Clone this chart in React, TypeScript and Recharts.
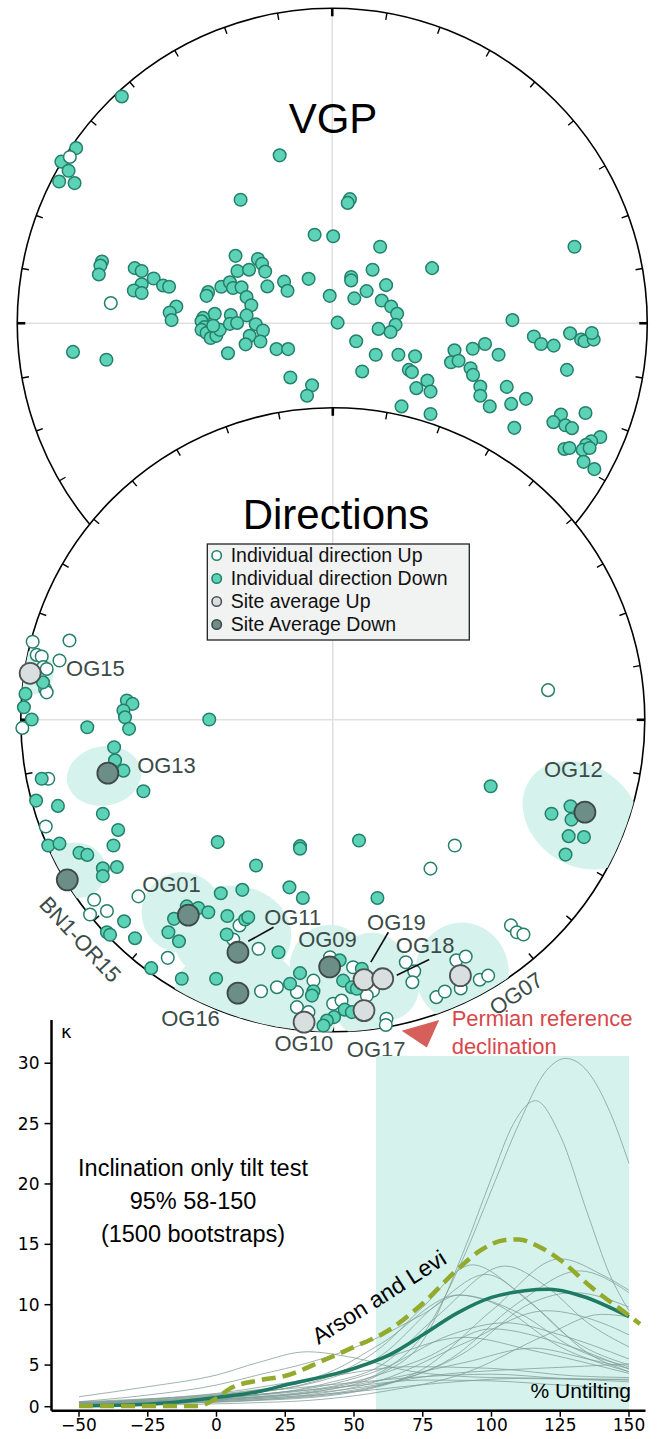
import React from 'react';
import { ScatterChart, Scatter, XAxis, YAxis, LineChart, Line, ReferenceArea } from 'recharts';

type Pt = [number, number];

// Equal-area projected coordinates (unit circle, x = east, y = north)
const vgpDown: Pt[] = [
  [-0.668, 0.72], [-0.813, 0.556], [-0.86, 0.513], [-0.837, 0.484], [-0.867, 0.45], [-0.818, 0.445],
  [-0.167, 0.533], [-0.291, 0.392], [-0.056, 0.281], [0.003, 0.276], [-0.731, 0.196], [-0.736, 0.183],
  [-0.741, 0.155], [-0.627, 0.175], [-0.605, 0.166], [-0.567, 0.142], [-0.605, 0.124], [-0.63, 0.104],
  [-0.605, 0.096], [-0.537, 0.12], [-0.518, 0.116], [-0.495, 0.053], [-0.516, 0.034], [-0.51, 0.01],
  [-0.823, -0.091], [-0.717, -0.116], [-0.394, 0.099], [-0.399, 0.087], [-0.352, 0.116], [-0.325, 0.13],
  [-0.315, 0.112], [-0.307, 0.214], [-0.301, 0.166], [-0.264, 0.17], [-0.236, 0.204], [-0.223, 0.189],
  [-0.213, 0.164], [-0.288, 0.114], [-0.272, 0.083], [-0.257, 0.057], [-0.272, 0.025], [-0.206, 0.117],
  [-0.153, 0.132], [-0.142, 0.103], [-0.075, 0.141], [-0.008, 0.087], [-0.373, 0.03], [-0.41, 0.017],
  [-0.415, 0.006], [-0.405, -0.012], [-0.415, -0.021], [-0.399, -0.031], [-0.386, -0.047], [-0.368, -0.04],
  [-0.357, -0.021], [-0.378, -0.008], [-0.322, 0.026], [-0.325, -0.002], [-0.302, 0.001], [-0.243, -0.003],
  [-0.22, -0.023], [-0.262, -0.04], [-0.275, -0.067], [-0.228, -0.058], [-0.331, -0.095], [-0.177, -0.082],
  [-0.14, -0.082], [-0.133, -0.172], [-0.064, -0.197], [-0.08, -0.23],
  [0.056, 0.394], [0.049, 0.382], [0.152, 0.243], [0.769, 0.243], [0.317, 0.175], [0.128, 0.17],
  [0.06, 0.147], [0.06, 0.136], [0.171, 0.121], [0.109, 0.102], [0.07, 0.079], [0.157, 0.072],
  [0.187, 0.053], [0.206, 0.03], [0.201, -0.005], [0.185, -0.028], [0.147, -0.018], [0.017, 0.002],
  [0.572, 0.01], [0.076, -0.057], [0.138, -0.1], [0.21, -0.1], [0.263, -0.105], [0.095, -0.153],
  [0.243, -0.148], [0.253, -0.155], [0.302, -0.182], [0.267, -0.206], [0.312, -0.217], [0.22, -0.264],
  [0.312, -0.288], [0.388, -0.086], [0.377, -0.124], [0.401, -0.119], [0.446, -0.081], [0.485, -0.066],
  [0.528, -0.1], [0.439, -0.143], [0.447, -0.164], [0.47, -0.201], [0.47, -0.23], [0.5, -0.264],
  [0.554, -0.202], [0.568, -0.256], [0.615, -0.24], [0.578, -0.332], [0.64, -0.042], [0.663, -0.066],
  [0.703, -0.071], [0.755, -0.032], [0.79, -0.052], [0.801, -0.057], [0.83, -0.052], [0.824, -0.031],
  [0.745, -0.148], [0.726, -0.29], [0.702, -0.314], [0.74, -0.324], [0.761, -0.333], [0.804, -0.285],
  [0.851, -0.361], [0.822, -0.375], [0.806, -0.386], [0.795, -0.402], [0.817, -0.396], [0.737, -0.399],
  [0.753, -0.396], [0.798, -0.44], [0.832, -0.463],
];
const vgpUp: Pt[] = [[-0.833, 0.528], [-0.703, 0.064]];

const dirUp: Pt[] = [
  [-0.962, 0.25], [-0.844, 0.254], [-0.949, 0.208], [-0.933, 0.203], [-0.876, 0.19], [-0.928, 0.169],
  [-0.917, 0.163], [-0.922, 0.099], [-0.917, 0.088], [-0.995, -0.026], [-0.912, -0.189], [-0.92, -0.342],
  [-0.765, -0.577], [-0.778, -0.624], [-0.724, -0.613], [-0.623, -0.566], [-0.529, -0.763], [-0.299, -0.659],
  [-0.319, -0.704], [-0.238, -0.734], [-0.23, -0.87], [-0.179, -0.857], [-0.115, -0.873], [-0.062, -0.836],
  [-0.115, -0.921], [-0.078, -0.937], [0.69, 0.095], [0.391, -0.403], [0.313, -0.477], [0.571, -0.659],
  [0.59, -0.681], [0.611, -0.688], [0.234, -0.777], [0.261, -0.806], [0.255, -0.841], [0.396, -0.771],
  [0.426, -0.759], [0.41, -0.861], [0.471, -0.833], [0.498, -0.82], [0.332, -0.889], [0.359, -0.871],
  [0.172, -0.958], [0.17, -0.978], [0.065, -0.793], [0.129, -0.868], [0.001, -0.91], [0.028, -0.9],
  [0.109, -0.884], [-0.009, -0.761],
];
const dirDown: Pt[] = [
  [-0.929, 0.12], [-0.985, 0.083], [-0.99, 0.04], [-0.965, 0.001], [-0.787, -0.024], [-0.66, 0.062],
  [-0.642, 0.051], [-0.671, 0.03], [-0.666, 0.008], [-0.653, -0.029], [-0.396, 0.001], [-0.701, -0.088],
  [-0.698, -0.13], [-0.671, -0.163], [-0.607, -0.229], [-0.933, -0.189], [-0.951, -0.259], [-0.881, -0.276],
  [-0.737, -0.301], [-0.688, -0.353], [-0.703, -0.403], [-0.912, -0.403], [-0.876, -0.397], [-0.812, -0.426],
  [-0.787, -0.433], [-0.737, -0.476], [-0.737, -0.501], [-0.692, -0.472], [-0.369, -0.392], [-0.105, -0.405],
  [-0.105, -0.413], [-0.246, -0.467], [-0.359, -0.556], [-0.29, -0.545], [-0.139, -0.537], [-0.096, -0.571],
  [-0.669, -0.646], [-0.724, -0.681], [-0.714, -0.689], [-0.634, -0.7], [-0.582, -0.796], [-0.484, -0.83],
  [-0.374, -0.83], [-0.509, -0.638], [-0.527, -0.681], [-0.493, -0.71], [-0.468, -0.598], [-0.431, -0.603],
  [-0.399, -0.617], [-0.338, -0.629], [-0.34, -0.688], [-0.281, -0.64], [-0.271, -0.633], [-0.174, -0.745],
  [-0.105, -0.812], [-0.137, -0.846], [-0.062, -0.87], [0.506, -0.213], [0.084, -0.387], [0.143, -0.571],
  [0.701, -0.301], [0.762, -0.277], [0.765, -0.32], [0.756, -0.373], [0.805, -0.376], [0.746, -0.432],
  [0.022, -0.771], [0.033, -0.836], [0.004, -0.953], [0.038, -0.929], [0.093, -0.798], [0.061, -0.857],
  [0.077, -0.862], [-0.067, -0.884], [-0.019, -0.964], [-0.03, -0.98], [0.061, -0.937],
];

// site means: [name, x, y]
const siteMeansUp: [string, number, number][] = [
  ['OG15', -0.97, 0.149], ['OG10', -0.092, -0.969], ['OG19', 0.1, -0.833],
  ['OG18', 0.16, -0.83], ['OG07', 0.409, -0.82], ['OG17', 0.1, -0.932],
];
const siteMeansDown: [string, number, number][] = [
  ['OG13', -0.721, -0.171], ['BN1-OR15', -0.851, -0.513], ['OG01', -0.463, -0.626],
  ['OG11', -0.304, -0.745], ['OG16', -0.304, -0.876], ['OG09', -0.01, -0.792], ['OG12', 0.808, -0.296],
];
// confidence regions: [x, y, semi-axis x, semi-axis y, rotation deg]
const confRegions: [number, number, number, number, number][] = [
  [-0.96, 0.152, 0.065, 0.07, 0], [-0.733, -0.18, 0.12, 0.095, -10], [-0.826, -0.483, 0.1, 0.09, 0],
  [-0.483, -0.618, 0.13, 0.13, 0], [-0.323, -0.691, 0.19, 0.16, 0], [-0.307, -0.873, 0.2, 0.15, 0],
  [-0.009, -0.797, 0.13, 0.14, 0], [-0.092, -0.964, 0.1, 0.08, 0], [0.126, -0.822, 0.12, 0.14, 0],
  [0.177, -0.853, 0.1, 0.11, 0], [0.1, -0.933, 0.09, 0.08, 0], [0.414, -0.81, 0.15, 0.16, 0],
  [0.796, -0.306, 0.2, 0.16, 35],
];
const PERMIAN_DEC = 164;

// k vs % untilting
const meanKappa: Pt[] = [
  [-50, 0.1], [-25, 0.3], [0, 1.1], [15, 1.8], [25, 2.6], [50, 4.6], [62.5, 5.8], [75, 7.5],
  [87.5, 9.3], [100, 10.6], [112, 11.15], [121, 11.27], [133, 10.7], [150, 9.0],
];
const arsonLevi: Pt[] = [
  [-50, 0.1], [-25, 0.1], [-7, 0.1], [0, 1.0], [5, 2.2], [16, 3.2], [25, 3.7], [39, 5.4], [50, 6.5],
  [62, 7.8], [75, 10.1], [88, 13.0], [96, 14.5], [105, 15.35], [110, 15.4], [116, 14.95], [125, 13.7],
  [136, 11.5], [150, 9.1], [154, 8.4],
];
const bootstraps: Pt[][] = [
  [[-50, 1.2], [-25, 2.4], [0, 3.8], [15, 5.2], [33, 6.1], [50, 5.6], [70, 4.3], [100, 3.5], [125, 3.4], [150, 3.2]],
  [[-50, 0.6], [-25, 1.4], [0, 2.6], [15, 3.8], [35, 5.3], [55, 6.9], [75, 9.2], [88, 10.8], [100, 10.2], [125, 6.5], [150, 4.2]],
  [[-50, 0.3], [0, 0.9], [40, 2.2], [60, 4.2], [75, 7.5], [90, 14], [100, 19.5], [110, 25], [120, 29.4], [127, 30.4], [135, 29.3], [143, 26], [150, 21.7]],
  [[-50, 0.3], [0, 0.8], [40, 2.0], [60, 4.0], [75, 7], [90, 14.5], [100, 20.5], [108, 25], [116, 26.9], [125, 24], [135, 17.5], [143, 12.5], [150, 9.5]],
  [[-50, 0.4], [0, 1.2], [40, 3.5], [60, 6.5], [75, 9.8], [93, 13.3], [110, 11], [130, 7], [150, 5]],
  [[-50, 0.3], [0, 1], [40, 2.8], [60, 5], [80, 9], [105, 13.2], [120, 11.5], [135, 8.5], [150, 6.5]],
  [[-50, 0.2], [0, 0.6], [50, 2], [75, 4.5], [100, 9.5], [125, 13.8], [140, 12.5], [150, 11.2]],
  [[-50, 0.5], [0, 1.3], [40, 3.3], [60, 5.8], [80, 10], [98, 12.5], [115, 10], [135, 6], [150, 4.2]],
  [[-50, 0.5], [0, 1.4], [40, 4], [60, 6.8], [88, 10.8], [110, 9.3], [130, 6.4], [150, 4.8]],
  [[-50, 0.2], [25, 1], [60, 2.6], [85, 5.5], [110, 10.2], [132, 12.8], [150, 11]],
  [[-50, 0.3], [25, 1.2], [60, 3.2], [90, 6.8], [120, 9.5], [140, 8.5], [150, 7.5]],
  [[-50, 0.4], [25, 1.8], [60, 4.5], [85, 7.5], [105, 8.5], [125, 7.5], [150, 5.5]],
  [[-50, 0.1], [25, 0.6], [60, 1.8], [90, 4], [120, 7.5], [140, 9.2], [150, 9]],
  [[-50, 0.6], [25, 2.5], [60, 5.5], [90, 7.3], [115, 6.2], [150, 4]],
  [[-50, 0.3], [25, 1.4], [60, 3.2], [90, 5.2], [115, 6.4], [135, 5.5], [150, 4.6]],
  [[-50, 0.4], [0, 1.4], [50, 2.9], [75, 3.6], [100, 3.9], [125, 3.4], [150, 3]],
  [[-50, 0.3], [0, 1.1], [50, 2.5], [75, 3.2], [100, 3.1], [125, 2.6], [150, 2.2]],
  [[-50, 0.2], [0, 0.9], [50, 2.2], [80, 3.8], [110, 4.5], [130, 4.8], [150, 5.1]],
  [[-50, 0.2], [0, 0.7], [50, 1.8], [80, 2.8], [110, 3.4], [130, 3.3], [150, 3.3]],
  [[-50, 0.3], [0, 1], [50, 3], [75, 5.5], [100, 8], [125, 6.8], [150, 4.5]],
  [[-50, 0.5], [0, 1.6], [40, 3.6], [70, 4.8], [100, 4.6], [130, 3.7], [150, 3.5]],
  [[-50, 0.2], [25, 0.9], [60, 2.5], [90, 6], [115, 10.2], [130, 11], [150, 9.8]],
];
const BAND: Pt = [58, 150];
const BAND_TOP = 30.6;
const X_TICKS = [-50, -25, 0, 25, 50, 75, 100, 125, 150];
const KAPPA_TICKS = [0, 5, 10, 15, 20, 25, 30];

// ---- layout / style ----
const SANS = '"Liberation Sans", Arial, Helvetica, sans-serif';
const DEJAVU = '"DejaVu Sans", sans-serif';
const TEAL = '#5cd3b6';
const TEAL_EDGE = '#24806b';
const REGION = '#d6f2ec';
const LABEL = '#3b4b48';
const RED = '#d9474a';

const SPAN = 1.15;
const VGP = { cx: 332.5, cy: 323.5, r: 315 };
const DIR = { cx: 332.7, cy: 719.3, r: 312 };

// axis below 5 is compressed in the original figure
const squash = (k: number) => (k >= 5 ? k : 5 - (5 - k) * 0.69);
const unsquash = (v: number) => (v >= 5 ? v : 5 - (5 - v) / 0.69);
const Y_MIN = 1.22;
const Y_MAX = 33.58;

const xy = (pts: Pt[]) => pts.map(([x, y]) => ({ x, y }));
const kx = (pts: Pt[]) => pts.map(([x, k]) => ({ x, k }));
const minus = (v: number) => (v < 0 ? `\u2212${Math.abs(v)}` : `${v}`);

const dot = (r: number, fill: string, stroke: string, sw: number) => (p: any) => (
  <circle cx={p.cx} cy={p.cy} r={r} fill={fill} stroke={stroke} strokeWidth={sw} />
);

const frame = (r: number, clipId?: string) => (p: any) => {
  const { cx, cy } = p;
  const ticks = [];
  for (let a = 0; a < 360; a += 10) {
    const t = (a * Math.PI) / 180;
    const s = Math.sin(t);
    const c = Math.cos(t);
    const major = a % 90 === 0;
    const len = major ? 8 : 7;
    ticks.push(
      <line key={a} x1={cx + s * r} y1={cy - c * r} x2={cx + s * (r - len)} y2={cy - c * (r - len)}
        stroke="#000" strokeWidth={major ? 2.6 : 1.4} />
    );
  }
  return (
    <g>
      {clipId && (
        <defs>
          <clipPath id={clipId}>
            <circle cx={cx} cy={cy} r={r} />
          </clipPath>
        </defs>
      )}
      <circle cx={cx} cy={cy} r={r} fill="#fff" />
      <line x1={cx - r} y1={cy} x2={cx + r} y2={cy} stroke="#e0e0e0" strokeWidth={1.6} />
      <line x1={cx} y1={cy - r} x2={cx} y2={cy + r} stroke="#e0e0e0" strokeWidth={1.6} />
      <circle cx={cx} cy={cy} r={r} fill="none" stroke="#000" strokeWidth={1.6} />
      {ticks}
    </g>
  );
};

const regionShape = (p: any) => {
  const d = p.payload;
  return (
    <g clipPath="url(#dirClip)">
      <ellipse cx={p.cx} cy={p.cy} rx={d.a * DIR.r} ry={d.b * DIR.r} fill={REGION}
        transform={`rotate(${d.rot} ${p.cx} ${p.cy})`} />
    </g>
  );
};

// label anchors (text start, baseline) and leader lines in projected units
const siteLabels = [
  { x: -0.855, y: 0.139, text: 'OG15' },
  { x: -0.627, y: -0.171, text: 'OG13' },
  { x: -0.611, y: -0.553, text: 'OG01' },
  { x: -0.22, y: -0.659, text: 'OG11', leader: [-0.271, -0.71, -0.19, -0.665] },
  { x: -0.55, y: -0.98, text: 'OG16' },
  { x: -0.187, y: -1.06, text: 'OG10' },
  { x: 0.045, y: -1.081, text: 'OG17' },
  { x: -0.111, y: -0.729, text: 'OG09' },
  { x: 0.11, y: -0.675, text: 'OG19', leader: [0.178, -0.681, 0.122, -0.777] },
  { x: 0.202, y: -0.749, text: 'OG18', leader: [0.309, -0.768, 0.205, -0.819] },
  { x: 0.677, y: -0.184, text: 'OG12' },
  { x: 0.588, y: -0.878, text: 'OG07', angle: -34 },
  { x: -0.81, y: -0.704, text: 'BN1-OR15', angle: 47 },
  { x: 0.381, y: -0.98, text: 'Permian reference', color: RED },
  { x: 0.381, y: -1.07, text: 'declination', color: RED },
];

const labelShape = (p: any) => {
  const d = p.payload;
  const { cx, cy } = p;
  const R = DIR.r;
  const leader = d.leader ? (
    <line x1={cx + (d.leader[0] - d.x) * R} y1={cy - (d.leader[1] - d.y) * R}
      x2={cx + (d.leader[2] - d.x) * R} y2={cy - (d.leader[3] - d.y) * R}
      stroke="#111" strokeWidth={1.6} />
  ) : null;
  const rotated = d.angle !== undefined;
  return (
    <g>
      {leader}
      <text x={cx} y={cy} fill={d.color || LABEL} fontSize={22} fontFamily={SANS}
        textAnchor={rotated ? 'middle' : 'start'} dominantBaseline={rotated ? 'central' : 'alphabetic'}
        transform={rotated ? `rotate(${d.angle} ${cx} ${cy})` : undefined}>
        {d.text}
      </text>
    </g>
  );
};

const permianShape = (p: any) => {
  const t = (PERMIAN_DEC * Math.PI) / 180;
  const u = [Math.sin(t), -Math.cos(t)];
  const q = [Math.cos(t), Math.sin(t)];
  const bx = p.cx + u[0] * 6;
  const by = p.cy + u[1] * 6;
  const pts = [
    [bx + q[0] * 19.5, by + q[1] * 19.5],
    [bx - q[0] * 19.5, by - q[1] * 19.5],
    [p.cx + u[0] * 29, p.cy + u[1] * 29],
  ];
  return <polygon points={pts.map((v) => v.join(',')).join(' ')} fill="#d65f5b" />;
};

const Stereonet: React.FC<{ geo: typeof VGP; children: React.ReactNode }> = ({ geo, children }) => {
  const size = 2 * SPAN * geo.r;
  return (
    <div style={{ position: 'absolute', left: geo.cx - size / 2, top: geo.cy - size / 2 }}>
      <ScatterChart width={size} height={size} margin={{ top: 0, right: 0, bottom: 0, left: 0 }}>
        <XAxis type="number" dataKey="x" domain={[-SPAN, SPAN]} hide />
        <YAxis type="number" dataKey="y" domain={[-SPAN, SPAN]} hide />
        {children}
      </ScatterChart>
    </div>
  );
};

const origin = [{ x: 0, y: 0 }];

const VgpPlot = () => (
  <Stereonet geo={VGP}>
    <Scatter data={origin} shape={frame(VGP.r)} isAnimationActive={false} />
    <Scatter data={xy(vgpDown)} shape={dot(6.3, TEAL, TEAL_EDGE, 1.5)} isAnimationActive={false} />
    <Scatter data={xy(vgpUp)} shape={dot(6.3, '#fff', TEAL_EDGE, 1.5)} isAnimationActive={false} />
  </Stereonet>
);

const DirectionsPlot = () => {
  const rim = Math.PI * PERMIAN_DEC / 180;
  return (
    <Stereonet geo={DIR}>
      <Scatter data={origin} shape={frame(DIR.r, 'dirClip')} isAnimationActive={false} />
      <Scatter data={confRegions.map(([x, y, a, b, rot]) => ({ x, y, a, b, rot }))} shape={regionShape} isAnimationActive={false} />
      <Scatter data={xy(dirUp)} shape={dot(6.3, '#fff', TEAL_EDGE, 1.5)} isAnimationActive={false} />
      <Scatter data={xy(dirDown)} shape={dot(6.3, TEAL, TEAL_EDGE, 1.5)} isAnimationActive={false} />
      <Scatter data={siteMeansUp.map(([s, x, y]) => ({ s, x, y }))} shape={dot(10.5, '#d9dede', '#4d5453', 1.8)} isAnimationActive={false} />
      <Scatter data={siteMeansDown.map(([s, x, y]) => ({ s, x, y }))} shape={dot(10.5, '#6d8e87', '#3d4a47', 1.8)} isAnimationActive={false} />
      <Scatter data={[{ x: Math.sin(rim), y: Math.cos(rim) }]} shape={permianShape} isAnimationActive={false} />
      <Scatter data={siteLabels} shape={labelShape} isAnimationActive={false} />
    </Stereonet>
  );
};

const KappaPlot = () => (
  <div style={{ position: 'absolute', left: 0, top: 980 }}>
    <LineChart width={658} height={459} margin={{ top: 40, right: 12.5, bottom: 0.3, left: 5.5 }}>
      <XAxis type="number" dataKey="x" domain={[-60, 156]} ticks={X_TICKS} tickFormatter={minus}
        height={28} tickSize={6} tickMargin={2}
        axisLine={{ stroke: '#000', strokeWidth: 2.5 }} tickLine={{ stroke: '#000', strokeWidth: 1.5 }}
        tick={{ fill: '#000', fontSize: 17, fontFamily: DEJAVU }} />
      <YAxis type="number" domain={[Y_MIN, Y_MAX]} ticks={KAPPA_TICKS.map(squash)}
        tickFormatter={(v: number) => String(Math.round(unsquash(v)))}
        width={46} tickSize={7} tickMargin={5}
        axisLine={{ stroke: '#000', strokeWidth: 2.5 }} tickLine={{ stroke: '#000', strokeWidth: 1.5 }}
        tick={{ fill: '#000', fontSize: 17, fontFamily: DEJAVU }} />
      <ReferenceArea x1={BAND[0]} x2={BAND[1]} y1={Y_MIN} y2={squash(BAND_TOP)} fill={REGION} fillOpacity={1} stroke="none" />
      {bootstraps.map((b, i) => (
        <Line key={i} data={kx(b)} dataKey={(d: any) => squash(d.k)} type="monotone" stroke="#7f9d96"
          strokeWidth={0.9} strokeOpacity={0.85} dot={false} activeDot={false} isAnimationActive={false} />
      ))}
      <Line data={kx(meanKappa)} dataKey={(d: any) => squash(d.k)} type="monotone" stroke="#1e7a63"
        strokeWidth={3.5} dot={false} activeDot={false} isAnimationActive={false} />
      <Line data={kx(arsonLevi)} dataKey={(d: any) => squash(d.k)} type="monotone" stroke="#93aa2c"
        strokeWidth={4.5} strokeDasharray="14 7" dot={false} activeDot={false} isAnimationActive={false} />
    </LineChart>
  </div>
);

const legendItems: [string, string, string][] = [
  ['Individual direction Up', '#fff', TEAL_EDGE],
  ['Individual direction Down', TEAL, TEAL_EDGE],
  ['Site average Up', '#d9dede', '#4d5453'],
  ['Site Average Down', '#6d8e87', '#3d4a47'],
];

const Annotations = () => (
  <svg width={658} height={1439} style={{ position: 'absolute', left: 0, top: 0, pointerEvents: 'none' }}>
    <g fontFamily={SANS}>
      <text x={333} y={133} fontSize={42} textAnchor="middle">VGP</text>
      <text x={336} y={529} fontSize={42} textAnchor="middle">Directions</text>
      <rect x={207.3} y={544} width={262} height={96} fill="#f1f3f2" stroke="#222" strokeWidth={1.3} />
      {legendItems.map(([name, fill, stroke], i) => (
        <g key={name}>
          <circle cx={216.7} cy={555.5 + i * 23} r={4.7} fill={fill} stroke={stroke} strokeWidth={1.6} />
          <text x={230.7} y={562.3 + i * 23} fontSize={19.5} fill="#111">{name}</text>
        </g>
      ))}
      <g fontSize={23.5} textAnchor="middle" fill="#000">
        <text x={193} y={1176}>Inclination only tilt test</text>
        <text x={193} y={1209}>{`95% ${BAND[0]}-${BAND[1]}`}</text>
        <text x={193} y={1242}>(1500 bootstraps)</text>
      </g>
      <text x={631} y={1398} fontSize={21} textAnchor="end">% Untilting</text>
      <text x={379} y={1297} fontSize={23} textAnchor="middle" dominantBaseline="central"
        transform="rotate(-32.5 379 1297)">Arson and Levi</text>
    </g>
    <text x={61} y={1038} fontSize={18} fontFamily={DEJAVU}>κ</text>
  </svg>
);

export default function App() {
  return (
    <div style={{ position: 'absolute', left: 0, top: 0, width: 658, height: 1439, overflow: 'hidden', background: '#fff' }}>
      <VgpPlot />
      <DirectionsPlot />
      <KappaPlot />
      <Annotations />
    </div>
  );
}
